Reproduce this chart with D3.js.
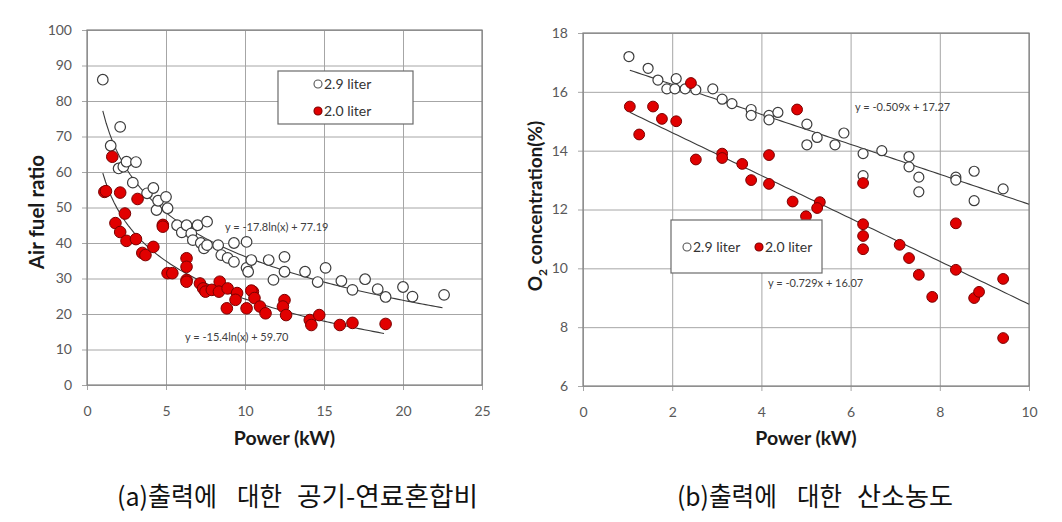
<!DOCTYPE html>
<html><head><meta charset="utf-8">
<script src="https://cdn.jsdelivr.net/npm/d3@7"></script>
<style>body{margin:0;background:#fff;} svg{display:block;font-family:Lato,"Open Sans",sans-serif;}</style>
</head><body><svg id="c" width="1062" height="522"></svg>
<script>
// ---- Data: (a) Air fuel ratio vs Power ----
const afrTicksX = [0, 5, 10, 15, 20, 25];
const afrTicksY = [0, 10, 20, 30, 40, 50, 60, 70, 80, 90, 100];
const afr29 = [[1.0,86],[1.5,67.4],[2.1,72.7],[2.0,61],[2.3,61.5],[2.5,62.9],[3.1,62.8],[2.9,57],[3.8,54],[4.2,55.5],[4.4,49.3],[4.5,51.9],[5.0,53],[5.1,49.8],[5.7,45],[6.0,43],[6.3,45],[6.6,42.7],[6.7,40.8],[7.0,45],[7.2,40],[7.4,38.5],[7.6,46],[7.6,39.4],[8.3,39.4],[8.5,36.6],[8.9,35.8],[9.3,40],[9.3,34.7],[10.1,40.3],[10.1,33],[10.2,31.9],[10.4,35.2],[11.5,35.2],[11.8,29.6],[12.5,36.1],[12.5,31.9],[13.8,31.9],[14.6,29],[15.1,33],[16.1,29.3],[16.8,26.8],[17.6,29.8],[18.4,27],[18.9,24.8],[20.0,27.6],[20.6,24.9],[22.6,25.4]];
const afr20 = [[1.1,54.4],[1.2,54.6],[1.6,64.3],[2.1,54.2],[3.2,52.4],[2.4,48.3],[1.8,45.6],[2.1,43.1],[2.5,40.6],[3.1,41.1],[3.5,37.2],[3.7,36.6],[4.2,38.9],[4.8,45.1],[4.8,44.6],[5.1,31.5],[5.4,31.5],[6.3,35.7],[6.3,33.3],[6.3,29.6],[6.3,29.1],[7.15,28.6],[7.35,27.2],[7.5,26.3],[7.9,26.8],[8.4,29.1],[8.35,26.3],[8.85,21.6],[8.9,27.2],[9.5,25.9],[9.4,24],[10.1,21.6],[10.5,26.3],[10.4,26.6],[10.6,24.5],[10.95,22.1],[11.3,20.2],[12.5,23.9],[12.4,22.1],[12.6,19.7],[14.1,18.3],[14.2,16.9],[14.7,19.7],[16.0,16.9],[16.8,17.5],[18.9,17.2]];
// trend: y = a*ln(x) + b, drawn over [xStart, xEnd]
const afrTrend29 = {a:-17.8, b:77.19, range:[1.0, 22.5], label:"y = -17.8ln(x) + 77.19"};
const afrTrend20 = {a:-15.4, b:59.70, range:[1.0, 18.8], label:"y = -15.4ln(x) + 59.70"};

// ---- Data: (b) O2 concentration vs Power ----
const o2TicksX = [0, 2, 4, 6, 8, 10];
const o2TicksY = [6, 8, 10, 12, 14, 16, 18];
const o229 = [[1.03,17.2],[1.46,16.8],[1.68,16.4],[1.88,16.1],[2.09,16.45],[2.06,16.1],[2.29,16.1],[2.53,16.07],[2.91,16.1],[3.12,15.75],[3.34,15.6],[3.77,15.4],[3.77,15.2],[4.17,15.2],[4.17,15.05],[4.37,15.3],[5.02,14.9],[5.25,14.45],[5.02,14.2],[5.65,14.2],[5.85,14.6],[6.28,13.9],[6.28,13.15],[6.7,14.0],[7.31,13.8],[7.31,13.45],[7.53,13.1],[7.53,12.6],[8.36,13.1],[8.36,13.0],[8.77,13.3],[8.77,12.3],[9.42,12.7]];
const o220 = [[1.05,15.5],[1.26,14.55],[1.57,15.5],[1.77,15.08],[2.09,15.0],[2.42,16.3],[2.53,13.7],[3.12,13.9],[3.12,13.75],[3.57,13.55],[3.77,13.0],[4.17,13.85],[4.17,12.87],[4.8,15.4],[4.7,12.27],[5.31,12.25],[5.25,12.05],[5.0,11.77],[6.28,12.9],[6.28,11.5],[6.28,11.1],[6.28,10.65],[7.1,10.8],[7.31,10.35],[7.53,9.78],[7.83,9.03],[8.36,11.53],[8.36,9.95],[8.77,8.99],[8.88,9.2],[9.42,9.64],[9.42,7.63]];
const o2Trend29 = {m:-0.509, c:17.27, range:[1.05, 10], label:"y = -0.509x + 17.27"};
const o2Trend20 = {m:-0.729, c:16.07, range:[1.05, 10], label:"y = -0.729x + 16.07"};

const seriesNames = ["2.9 liter", "2.0 liter"];
const captionA = ["(a)출력에", "대한", "공기-연료혼합비"];
const captionB = ["(b)출력에", "대한", "산소농도"];

const svg = d3.select("#c");

function panel(cfg) {
  const g = svg.append("g");
  const x = d3.scaleLinear().domain(cfg.xDomain).range([cfg.x0, cfg.x1]);
  const y = d3.scaleLinear().domain(cfg.yDomain).range([cfg.y1, cfg.y0]);
  const w = cfg.x1 - cfg.x0, h = cfg.y1 - cfg.y0;

  const ya = g.append("g").attr("transform", `translate(${cfg.x0},0)`)
    .call(d3.axisLeft(y).tickValues(cfg.yTicks).tickSize(-w).tickPadding(15));
  ya.select(".domain").remove();
  ya.selectAll(".tick line").attr("x1", -5).attr("stroke", "#a6a6a6");
  ya.selectAll(".tick text").attr("fill", "#595959").style("font-size", "14px").style("font-family", "Lato");

  const xa = g.append("g").attr("transform", `translate(0,${cfg.y1})`)
    .call(d3.axisBottom(x).tickValues(cfg.xTicks).tickSize(-h).tickPadding(21));
  xa.select(".domain").remove();
  xa.selectAll(".tick line").attr("y1", 5).attr("stroke", "#a6a6a6");
  xa.selectAll(".tick text").attr("fill", "#595959").style("font-size", "14px").style("font-family", "Lato");

  g.append("rect").attr("x", cfg.x0).attr("y", cfg.y0).attr("width", w).attr("height", h)
    .attr("fill", "none").attr("stroke", "#808080").attr("stroke-width", 1.2);

  // trendlines
  const line = d3.line().x(d => x(d[0])).y(d => y(d[1]));
  cfg.trends.forEach(t => {
    const xs = d3.range(0, 101).map(i => t.range[0] + (t.range[1] - t.range[0]) * i / 100);
    g.append("path").datum(xs.map(v => [v, t.f(v)])).attr("d", line)
      .attr("fill", "none").attr("stroke", "#3a3a3a").attr("stroke-width", 1.1);
  });

  // points
  g.append("g").selectAll("circle").data(cfg.s29).join("circle")
    .attr("cx", d => x(d[0])).attr("cy", d => y(d[1])).attr("r", cfg.r29)
    .attr("fill", "#fff").attr("stroke", "#3c3c3c").attr("stroke-width", 1.2);
  g.append("g").selectAll("circle").data(cfg.s20).join("circle")
    .attr("cx", d => x(d[0])).attr("cy", d => y(d[1])).attr("r", cfg.r20)
    .attr("fill", "#e10000").attr("stroke", "#7a0000").attr("stroke-width", 1);

  // equation labels
  cfg.eqs.forEach(e => {
    g.append("text").attr("x", e.x).attr("y", e.y).text(e.t)
      .attr("fill", "#404040").style("font-size", "11px").style("font-family", "Lato");
  });

  // axis titles
  g.append("text").attr("x", (cfg.x0 + cfg.x1) / 2).attr("y", 445).attr("text-anchor", "middle")
    .style("font-size", "19.5px").style("font-weight", "bold").attr("fill", "#1a1a1a").text("Power (kW)");
  const yt = g.append("text").attr("transform", `translate(${cfg.ytx},${cfg.ytc}) rotate(-90)`)
    .attr("text-anchor", "middle").style("font-size", cfg.ytSize).style("font-weight", "bold").attr("fill", "#1a1a1a");
  cfg.ytitle(yt);

  // legend
  const L = cfg.legend;
  g.append("rect").attr("x", L.x).attr("y", L.y).attr("width", L.w).attr("height", L.h)
    .attr("fill", "#fff").attr("stroke", "#6b6b6b").attr("stroke-width", 1.2);
  L.items.forEach((it, i) => {
    g.append("circle").attr("cx", it.cx).attr("cy", it.cy).attr("r", 4)
      .attr("fill", i === 0 ? "#fff" : "#e10000").attr("stroke", i === 0 ? "#555" : "#7a0000").attr("stroke-width", 1.1);
    g.append("text").attr("x", it.cx + 6).attr("y", it.cy + 5).text(seriesNames[i])
      .attr("fill", "#333").style("font-size", "14px").style("font-family", "Lato");
  });
}

panel({
  xDomain: [0, 25], yDomain: [0, 100], x0: 87, x1: 482, y0: 30, y1: 385,
  xTicks: afrTicksX, yTicks: afrTicksY, s29: afr29, s20: afr20, r29: 5.3, r20: 5.8,
  trends: [
    {range: afrTrend29.range, f: v => afrTrend29.a * Math.log(v) + afrTrend29.b},
    {range: afrTrend20.range, f: v => afrTrend20.a * Math.log(v) + afrTrend20.b}
  ],
  eqs: [{x: 225, y: 231, t: afrTrend29.label}, {x: 185, y: 341, t: afrTrend20.label}],
  ytx: 44, ytc: 212, ytSize: "20.5px",
  ytitle: t => t.text("Air fuel ratio"),
  legend: {x: 278, y: 71, w: 135, h: 53, items: [{cx: 318, cy: 84}, {cx: 318, cy: 111}]}
});

panel({
  xDomain: [0, 10], yDomain: [6, 18], x0: 583, x1: 1029, y0: 33, y1: 386,
  xTicks: o2TicksX, yTicks: o2TicksY, s29: o229, s20: o220, r29: 5, r20: 5.4,
  trends: [
    {range: o2Trend29.range, f: v => o2Trend29.m * v + o2Trend29.c},
    {range: o2Trend20.range, f: v => o2Trend20.m * v + o2Trend20.c}
  ],
  eqs: [{x: 855, y: 111, t: o2Trend29.label}, {x: 768, y: 287, t: o2Trend20.label}],
  ytx: 542, ytc: 206, ytSize: "19px",
  ytitle: t => { t.append("tspan").text("O"); t.append("tspan").attr("dy", 5).style("font-size", "12px").text("2");
                 t.append("tspan").attr("dy", -5).text(" concentration(%)"); },
  legend: {x: 671, y: 220, w: 151, h: 53, items: [{cx: 687, cy: 247}, {cx: 759, cy: 247}]}
});

// captions: word segments with measured spans
function caption(words, spans) {
  words.forEach((wd, i) => {
    svg.append("text").attr("x", spans[i][0]).attr("y", 506)
      .attr("textLength", spans[i][1] - spans[i][0]).attr("lengthAdjust", "spacingAndGlyphs")
      .style("font-family", "'Noto Sans CJK KR'").style("font-size", "26px").attr("fill", "#111").text(wd);
  });
}
caption(captionA, [[117, 217], [237, 282], [297, 478]]);
caption(captionB, [[677, 777], [797, 842], [857, 953]]);
</script></body></html>
